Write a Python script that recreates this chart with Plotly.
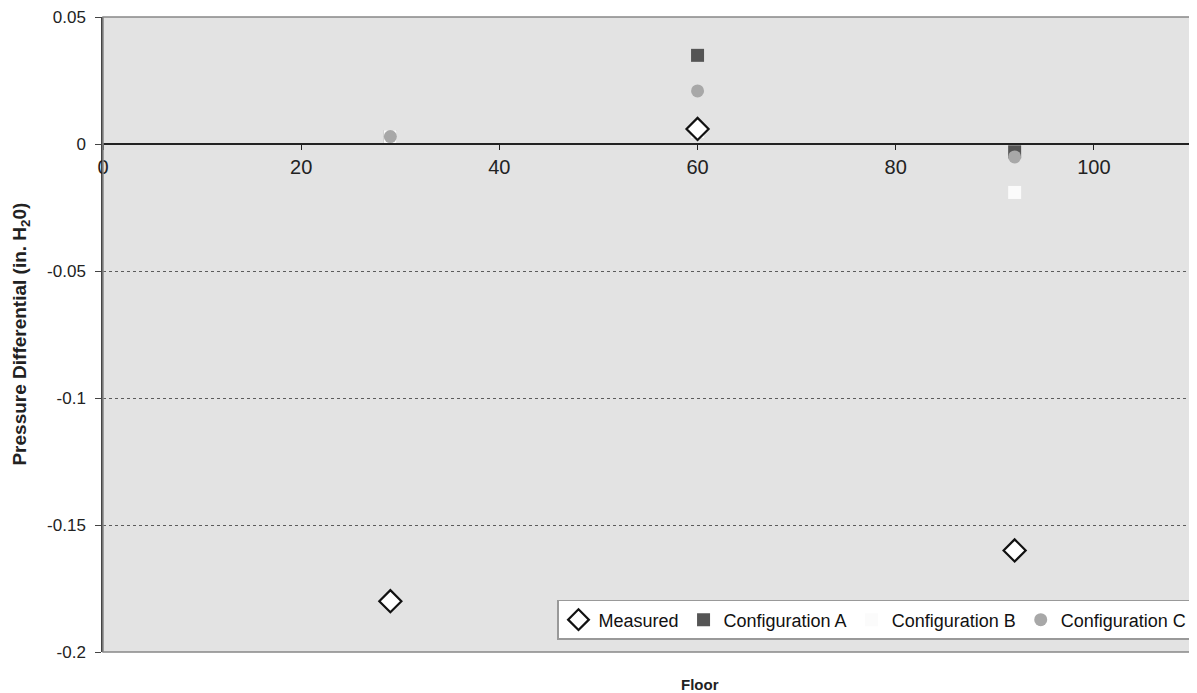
import plotly.graph_objects as go

floors = [29, 60, 92]
measured = [-0.18, 0.006, -0.16]
config_a = [0.003, 0.035, -0.003]
config_b = [0.003, 0.005, -0.019]
config_c = [0.003, 0.021, -0.005]

y_ticks = [0.05, 0, -0.05, -0.1, -0.15, -0.2]
y_tick_text = ["0.05", "0", "-0.05", "-0.1", "-0.15", "-0.2"]
x_ticks = [0, 20, 40, 60, 80, 100]

fig = go.Figure()
fig.add_trace(go.Scatter(x=floors, y=config_a, mode="markers", name="Configuration A", legendrank=2,
                         marker=dict(symbol="square", size=13, color="#555555", line=dict(width=0))))
fig.add_trace(go.Scatter(x=floors, y=config_b, mode="markers", name="Configuration B", legendrank=3,
                         marker=dict(symbol="square", size=13, color="#fbfbfb", line=dict(width=0))))
fig.add_trace(go.Scatter(x=floors, y=config_c, mode="markers", name="Configuration C", legendrank=4,
                         marker=dict(symbol="circle", size=13, color="#a8a8a8", line=dict(width=0))))
fig.add_trace(go.Scatter(x=floors, y=measured, mode="markers", name="Measured", legendrank=1,
                         marker=dict(symbol="diamond", size=17, color="white",
                                     line=dict(width=2.2, color="#111111"))))

ymin, ymax = -0.2, 0.0501
zero_pos = (0 - ymin) / (ymax - ymin)

fig.update_layout(
    width=1189, height=685,
    margin=dict(l=95, r=4, t=9, b=41, autoexpand=False),
    paper_bgcolor="white",
    plot_bgcolor="#e3e3e3",
    font=dict(family="Liberation Sans, Arial, sans-serif", size=16, color="#222222"),
    showlegend=True,
    legend=dict(orientation="h", x=1.0, xanchor="right", y=0.019, yanchor="bottom",
                bgcolor="white", bordercolor="#999999", borderwidth=1.5,
                font=dict(size=18, color="#111111"), traceorder="normal",
                itemwidth=30),
    xaxis=dict(range=[0, 110], tickvals=x_ticks, showgrid=False, zeroline=False,
               anchor="free", position=zero_pos, showline=True, linecolor="#222222", linewidth=2,
               ticks="outside", ticklen=5, tickcolor="#222222", automargin=False,
               tickfont=dict(size=20, color="#222222")),
    yaxis=dict(range=[ymin, ymax], tickvals=y_ticks, ticktext=y_tick_text,
               showgrid=True, gridcolor="#5c5c5c", griddash="dot", gridwidth=1,
               zeroline=False, showline=True, linecolor="#444444", linewidth=1.5,
               ticks="outside", ticklen=6, tickcolor="#444444", ticklabelstandoff=6,
               automargin=False,
               tickfont=dict(size=17, color="#222222")),
    annotations=[
        dict(text="<b>Pressure Differential (in. H<sub>2</sub>0)</b>", textangle=-90,
             x=-0.0761, xref="paper", y=0.5, yref="paper", showarrow=False,
             xanchor="center", yanchor="middle", font=dict(size=19, color="#222222")),
        dict(text="<b>Floor</b>", x=0.548, xref="paper",
             y=-0.0504, yref="paper", showarrow=False, xanchor="center", yanchor="middle",
             font=dict(size=15, color="#222222")),
    ],
    shapes=[dict(type="rect", xref="paper", yref="paper", x0=0, x1=1, y0=0, y1=1,
                 line=dict(color="#888888", width=1.5))],
)

fig.write_html("out.html")
